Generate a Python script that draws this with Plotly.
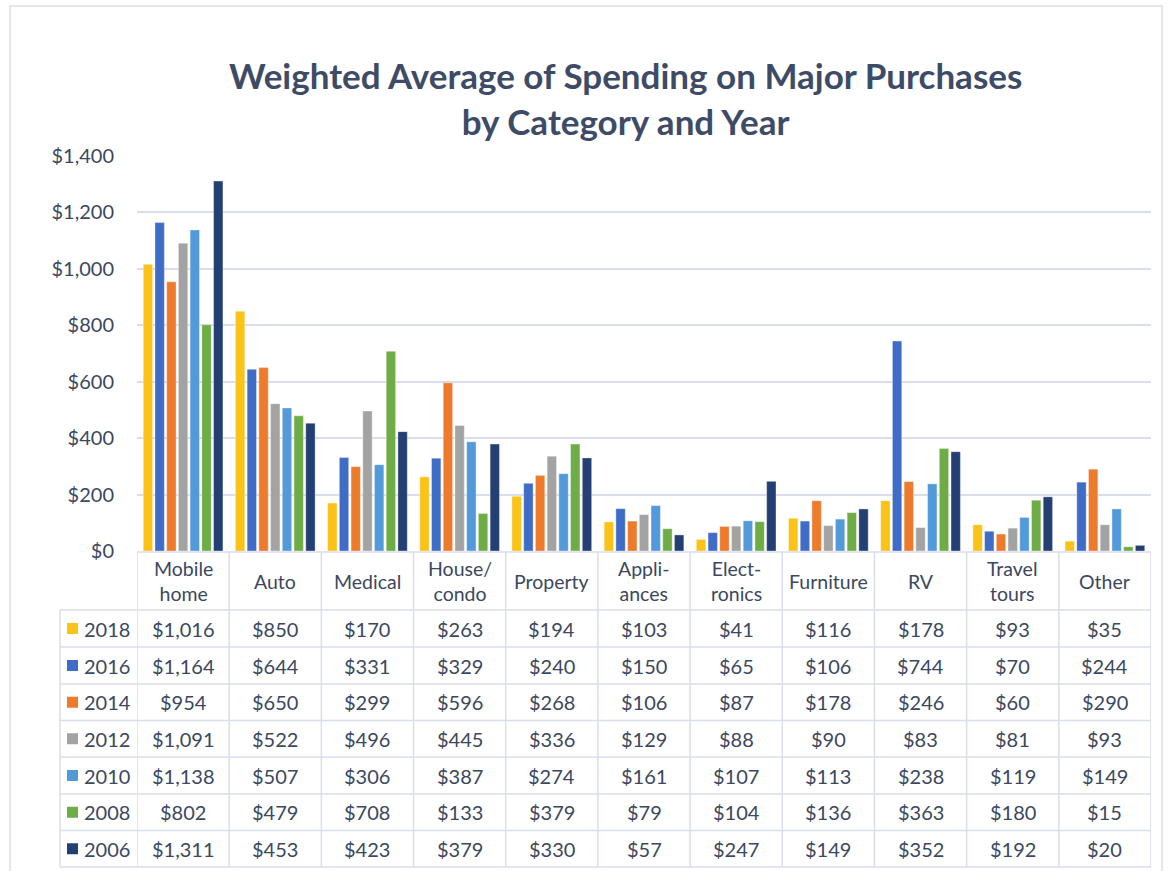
import plotly.graph_objects as go

categories = ["Mobile<br>home", "Auto", "Medical", "House/<br>condo", "Property",
              "Appli-<br>ances", "Elect-<br>ronics", "Furniture", "RV", "Travel<br>tours", "Other"]
years = ["2018", "2016", "2014", "2012", "2010", "2008", "2006"]
v2018 = [1016, 850, 170, 263, 194, 103, 41, 116, 178, 93, 35]
v2016 = [1164, 644, 331, 329, 240, 150, 65, 106, 744, 70, 244]
v2014 = [954, 650, 299, 596, 268, 106, 87, 178, 246, 60, 290]
v2012 = [1091, 522, 496, 445, 336, 129, 88, 90, 83, 81, 93]
v2010 = [1138, 507, 306, 387, 274, 161, 107, 113, 238, 119, 149]
v2008 = [802, 479, 708, 133, 379, 79, 104, 136, 363, 180, 15]
v2006 = [1311, 453, 423, 379, 330, 57, 247, 149, 352, 192, 20]
series = [v2018, v2016, v2014, v2012, v2010, v2008, v2006]
colors = ["#FBC218", "#3F6CC6", "#EE7A2C", "#A3A3A3", "#539ADA", "#6EAD45", "#233F73"]
y_ticks = [0, 200, 400, 600, 800, 1000, 1200, 1400]

W, H = 1169, 871
TXT = "#3C4760"
LINE = "#DADDEB"
FONT = "Lato"


def px(x):
    return x / W


def py(y):
    return 1 - y / H


fig = go.Figure()
idx = list(range(len(categories)))
for yr, vals, c in zip(years, series, colors):
    fig.add_trace(go.Bar(x=idx, y=vals, name=yr,
                         marker=dict(color=c, line=dict(color="rgba(255,255,255,0.6)", width=0.6)),
                         showlegend=False))

x0p, x1p = px(137), px(1151)
fig.update_layout(
    width=W, height=H,
    margin=dict(l=0, r=0, t=0, b=0, pad=0),
    paper_bgcolor="white", plot_bgcolor="white",
    barmode="group", bargap=0.11, bargroupgap=0.2,
    font=dict(family=FONT, color=TXT, size=19),
    xaxis=dict(domain=[x0p, x1p], range=[-0.5, len(categories) - 0.5], showticklabels=False,
               showgrid=False, zeroline=False, showline=False, ticks="", automargin=False),
    yaxis=dict(domain=[py(551), py(156)], range=[0, 1400], tickvals=y_ticks,
               ticktext=[f"${v:,}" for v in y_ticks], gridcolor=LINE, gridwidth=1.5,
               zeroline=False, showline=False, ticks="", ticklabelstandoff=22, automargin=False,
               tickfont=dict(size=20, color=TXT, family=FONT)),
)

shapes = []
shapes.append(dict(type="rect", xref="paper", yref="paper", x0=px(10), x1=px(1162), y0=py(880), y1=py(6),
                   line=dict(color=LINE, width=1.5), fillcolor="rgba(0,0,0,0)", layer="below"))
row_lines = [610, 647, 684, 720.5, 757, 794, 830.5, 867]
shapes.append(dict(type="line", xref="paper", yref="paper", x0=x0p, x1=x1p, y0=py(552), y1=py(552),
                   line=dict(color=LINE, width=1.5)))
for yl in row_lines:
    shapes.append(dict(type="line", xref="paper", yref="paper", x0=px(60), x1=x1p, y0=py(yl), y1=py(yl),
                       line=dict(color=LINE, width=1.5)))
for i in range(len(categories) + 1):
    shapes.append(dict(type="line", xref="x", yref="paper", x0=i - 0.5, x1=i - 0.5, y0=py(552), y1=py(867),
                       line=dict(color=LINE, width=1.5)))
shapes.append(dict(type="line", xref="paper", yref="paper", x0=px(60), x1=px(60), y0=py(610), y1=py(867),
                   line=dict(color=LINE, width=1.5)))

annotations = []
annotations.append(dict(text="<b>Weighted Average of Spending on Major Purchases<br>by Category and Year</b>",
                        xref="paper", yref="paper", x=px(625), y=py(98), yanchor="middle", xanchor="center",
                        showarrow=False, font=dict(size=35, color="#3E4B67", family=FONT), align="center"))
for i, cat in enumerate(categories):
    annotations.append(dict(text=cat, xref="x", yref="paper", x=i, y=py(581), yanchor="middle",
                            showarrow=False, font=dict(size=19.5, color=TXT, family=FONT), align="center"))
for r, (yr, vals, c) in enumerate(zip(years, series, colors)):
    top, bot = row_lines[r], row_lines[r + 1]
    yc = (top + bot) / 2
    shapes.append(dict(type="rect", xref="paper", yref="paper", x0=px(67), x1=px(78), y0=py(yc + 5.5),
                       y1=py(yc - 5.5), fillcolor=c, line=dict(width=0)))
    annotations.append(dict(text=yr, xref="paper", yref="paper", x=px(82), y=py(yc), xanchor="left",
                            yanchor="middle", showarrow=False, font=dict(size=20, color=TXT, family=FONT)))
    for i, v in enumerate(vals):
        annotations.append(dict(text=f"${v:,}", xref="x", yref="paper", x=i, y=py(yc), yanchor="middle",
                                showarrow=False, font=dict(size=20, color=TXT, family=FONT)))

fig.update_layout(shapes=shapes, annotations=annotations)
fig.write_html("out.html", config={"displayModeBar": False},
               post_script="document.body.style.margin='0';")
